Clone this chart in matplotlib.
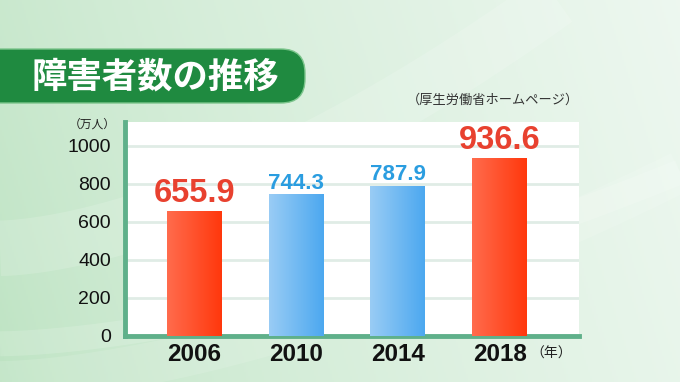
import numpy as np
import matplotlib
matplotlib.use("Agg")
import matplotlib.pyplot as plt
from matplotlib.patches import FancyBboxPatch

plt.rcParams['font.family'] = ['Liberation Sans', 'Noto Sans CJK JP', 'DejaVu Sans']

# data
years = ['2006', '2010', '2014', '2018']
values = [655.9, 744.3, 787.9, 936.6]
highlight = [True, False, False, True]
yticks = [0, 200, 400, 600, 800, 1000]
title = '障害者数の推移'
source = '（厚生労働省ホームページ）'
unit_y = '（万人）'
unit_x = '（年）'

fig = plt.figure(figsize=(6.8, 3.82), dpi=100)

# background gradient
bg = fig.add_axes([0, 0, 1, 1], zorder=-10)
bg.set_axis_off()
xx = np.linspace(0, 1, 340)
yy = np.linspace(0, 1, 191)
X, Y = np.meshgrid(xx, yy)
left_c = np.array([0.74, 0.89, 0.76])
right_c = np.array([0.93, 0.97, 0.94])
t = np.clip(X * 0.85 + (1 - Y) * 0.15, 0, 1) ** 0.7
img = left_c[None, None, :] * (1 - t[..., None]) + right_c[None, None, :] * t[..., None]
bg.imshow(img, extent=[0, 1, 0, 1], aspect='auto', origin='upper')
# soft white swooshes
s = np.linspace(0, 1, 200)
for a, b, w, al in [(0.0, 0.55, 30, 0.12), (0.1, 0.45, 18, 0.15), (0.35, 0.9, 40, 0.15)]:
    bg.plot(s, a + b * s ** 1.6, color='white', lw=w, alpha=al, solid_capstyle='butt')
bg.set_xlim(0, 1)
bg.set_ylim(0, 1)

# title banner (display pixel coords)
banner = FancyBboxPatch((-40, 279), 345, 54, boxstyle='round,pad=0,rounding_size=24',
                        transform=None, facecolor='#1f8a40', edgecolor='#7cc58c',
                        linewidth=1.0, zorder=5)
fig.patches.append(banner)
fig.text(31 / 680, 1 - 77 / 382, title, color='white', fontsize=25.5, fontweight='bold',
         family=['Noto Sans CJK JP'], va='center', ha='left', zorder=6)

fig.text(407 / 680, 1 - 100 / 382, source, color='#333333', fontsize=9.5,
         family=['Noto Sans CJK JP'], va='center', ha='left')

# main chart
ax = fig.add_axes([125 / 680, 1 - 336 / 382, 454 / 680, 214 / 382])
ax.set_facecolor('white')
x = np.arange(len(years))
bars = ax.bar(x, values, width=0.54, color='none', zorder=3)

red_grad = np.array([[1.0, 0.42, 0.30], [1.0, 0.22, 0.05]])
blue_grad = np.array([[0.60, 0.80, 0.96], [0.30, 0.66, 0.94]])
gx = np.linspace(0, 1, 64)
for bar, hi in zip(bars, highlight):
    c = red_grad if hi else blue_grad
    g = c[0][None, :] * (1 - gx[:, None]) + c[1][None, :] * gx[:, None]
    g = np.clip(g, 0, 1)
    x0, y0 = bar.get_x(), bar.get_y()
    w, h = bar.get_width(), bar.get_height()
    im = ax.imshow(g[None, :, :], extent=[x0, x0 + w, y0, y0 + h], aspect='auto', zorder=3)
    im.set_clip_path(bar)

for xi, v, hi in zip(x, values, highlight):
    if hi:
        ax.annotate(f'{v}', (xi, v), xytext=(0, 1.5), textcoords='offset points',
                    ha='center', va='bottom', color='#e8412f', fontsize=23.5,
                    fontweight='bold', zorder=4)
    else:
        ax.annotate(f'{v}', (xi, v), xytext=(0, 0.5), textcoords='offset points',
                    ha='center', va='bottom', color='#2a9de0', fontsize=16,
                    fontweight='bold', zorder=4)

ax.set_xlim(-0.683, 3.78)
ax.set_ylim(0, 1125)
ax.set_yticks(yticks)
ax.set_yticklabels([str(v) for v in yticks], fontsize=14, color='#111111')
ax.set_xticks(x)
ax.set_xticklabels(years, fontsize=17.5, fontweight='bold', color='#111111')
ax.tick_params(axis='both', length=0)
ax.tick_params(axis='y', pad=10)
ax.tick_params(axis='x', pad=5)
ax.yaxis.grid(True, color='#e0ece6', linewidth=2, zorder=0)
ax.set_axisbelow(True)
for side in ['top', 'right']:
    ax.spines[side].set_visible(False)
for side in ['left', 'bottom']:
    ax.spines[side].set_color('#5fb08a')
    ax.spines[side].set_linewidth(3.5)

fig.text(92 / 680, 1 - 124 / 382, unit_y, color='#222222', fontsize=8.5,
         family=['Noto Sans CJK JP'], va='center', ha='center')
fig.text(551 / 680, 1 - 354 / 382, unit_x, color='#222222', fontsize=10,
         family=['Noto Sans CJK JP'], va='center', ha='center')

fig.savefig('out.png', dpi=100)
